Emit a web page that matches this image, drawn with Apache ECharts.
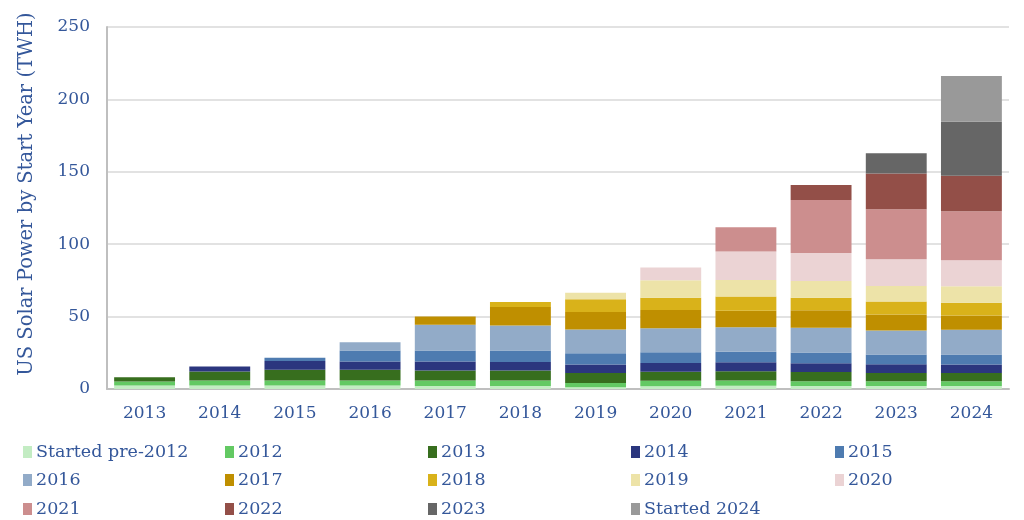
<!DOCTYPE html>
<html>
<head>
<meta charset="utf-8">
<script src="https://cdn.jsdelivr.net/npm/echarts@6/dist/echarts.min.js"></script>
<style>
  html, body { margin: 0; padding: 0; background: #fff; }
  #chart { width: 1024px; height: 520px; }
</style>
</head>
<body>
<div id="chart"></div>
<script>
// 数据
var years = ['2013','2014','2015','2016','2017','2018','2019','2020','2021','2022','2023','2024'];
var yTicks = [0, 50, 100, 150, 200, 250];

var pre2012 = [2.4, 2.4, 2.4, 2.4, 2.0, 2.0, 1.2, 1.9, 2.3, 2.0, 2.0, 2.0];
var s2012 = [2.8, 3.5, 3.5, 3.5, 3.9, 3.9, 3.0, 3.8, 3.5, 3.3, 3.3, 3.3];
var s2013 = [3.0, 6.2, 7.4, 7.4, 6.9, 6.9, 6.9, 6.2, 6.4, 6.5, 5.8, 5.8];
var s2014 = [null, 3.5, 6.0, 5.7, 6.2, 5.8, 5.8, 6.0, 6.2, 6.0, 6.0, 5.8];
var s2015 = [null, null, 2.3, 7.6, 7.6, 8.0, 7.8, 7.4, 7.4, 7.4, 6.7, 6.9];
var s2016 = [null, null, null, 5.7, 17.8, 17.3, 16.4, 16.6, 16.8, 17.1, 16.6, 17.1];
var s2017 = [null, null, null, null, 5.7, 12.7, 12.0, 12.7, 11.5, 12.0, 11.1, 9.9];
var s2018 = [null, null, null, null, null, 3.5, 8.8, 8.5, 9.7, 8.8, 9.0, 8.8];
var s2019 = [null, null, null, null, null, null, 4.6, 12.0, 11.5, 11.5, 10.6, 11.3];
var s2020 = [null, null, null, null, null, null, null, 8.8, 19.6, 19.4, 18.5, 18.0];
var s2021 = [null, null, null, null, null, null, null, null, 16.8, 36.5, 34.6, 33.9];
var s2022 = [null, null, null, null, null, null, null, null, null, 10.4, 24.7, 24.4];
var s2023 = [null, null, null, null, null, null, null, null, null, null, 13.9, 37.3];
var s2024 = [null, null, null, null, null, null, null, null, null, null, null, 31.6];

var seriesNames = ['Started pre-2012','2012','2013','2014','2015','2016','2017','2018','2019','2020','2021','2022','2023','Started 2024'];
var seriesData = [pre2012, s2012, s2013, s2014, s2015, s2016, s2017, s2018, s2019, s2020, s2021, s2022, s2023, s2024];
var colors = ['#c3ecc3','#63c963','#376e1e','#2b367e','#4e7bb0','#92abc8','#bf8f00','#d9b21a','#ede3a8','#ebd3d4','#cc8e8e','#934f48','#666666','#999999'];

var textColor = '#34579a';
var fontFam = '"DejaVu Serif", serif';

var myChart = echarts.init(document.getElementById('chart'));

// 图例：3行5列
var legendCols = [18, 220, 423, 626, 830];
var legendRows = [438, 466, 495];
var legends = seriesNames.map(function (name, i) {
  return {
    data: [name],
    left: legendCols[i % 5],
    top: legendRows[Math.floor(i / 5)],
    icon: 'rect',
    itemWidth: 9,
    itemHeight: 12,
    itemGap: 0,
    selectedMode: false,
    textStyle: { color: textColor, fontFamily: fontFam, fontSize: 17.5, padding: [0, 0, 0, -1] }
  };
});

var series = seriesNames.map(function (name, i) {
  return {
    name: name,
    type: 'bar',
    stack: 'total',
    barCategoryGap: '19%',
    itemStyle: { color: colors[i] },
    data: seriesData[i]
  };
});

var option = {
  animation: false,
  color: colors,
  grid: { left: 107, right: 15, top: 27, bottom: 131 },
  legend: legends,
  xAxis: {
    type: 'category',
    data: years,
    axisLine: { lineStyle: { color: '#bfbfbf', width: 2 } },
    axisTick: { show: false },
    axisLabel: { color: textColor, fontFamily: fontFam, fontSize: 17, margin: 16 }
  },
  yAxis: {
    type: 'value',
    min: yTicks[0],
    max: yTicks[yTicks.length - 1],
    interval: 50,
    name: 'US Solar Power by Start Year (TWH)',
    nameLocation: 'middle',
    nameGap: 70,
    // 左侧留白让竖排标题略微上移
    nameTextStyle: { color: textColor, fontFamily: fontFam, fontSize: 19.5, padding: [0, 0, 0, 28] },
    axisLine: { show: true, lineStyle: { color: '#bfbfbf', width: 2 } },
    axisTick: { show: false },
    splitLine: { lineStyle: { color: '#d9d9d9', width: 1.5 } },
    axisLabel: { color: textColor, fontFamily: fontFam, fontSize: 17, margin: 17 }
  },
  series: series
};

myChart.setOption(option);
</script>
</body>
</html>
